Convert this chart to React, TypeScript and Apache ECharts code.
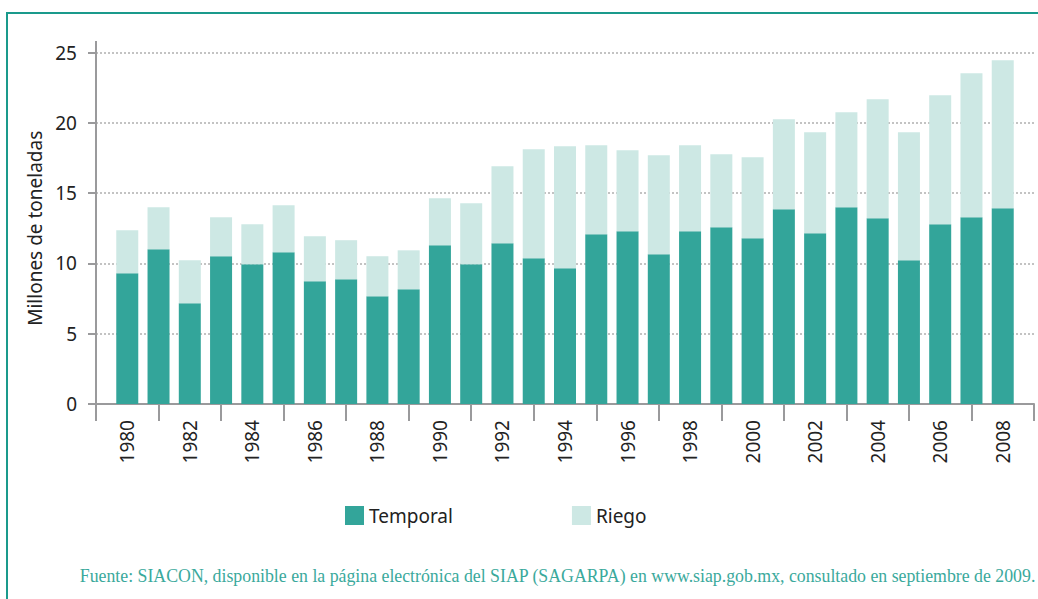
import React, { useEffect, useRef } from "react";
import * as echarts from "echarts";

const years = [
  "1980", "1981", "1982", "1983", "1984", "1985", "1986", "1987", "1988", "1989",
  "1990", "1991", "1992", "1993", "1994", "1995", "1996", "1997", "1998", "1999",
  "2000", "2001", "2002", "2003", "2004", "2005", "2006", "2007", "2008",
];
const temporal = [
  9.3, 11.0, 7.16, 10.51, 9.94, 10.79, 8.73, 8.87, 7.66, 8.16,
  11.29, 9.94, 11.43, 10.37, 9.65, 12.07, 12.29, 10.65, 12.29, 12.57,
  11.79, 13.85, 12.14, 13.99, 13.21, 10.22, 12.78, 13.28, 13.92,
];
const riego = [
  3.06, 3.0, 3.06, 2.77, 2.84, 3.35, 3.2, 2.78, 2.85, 2.77,
  3.34, 4.34, 5.48, 7.75, 8.68, 6.34, 5.76, 7.04, 6.12, 5.2,
  5.76, 6.41, 7.19, 6.76, 8.47, 9.11, 9.18, 10.25, 10.53,
];
const yTicks = [0, 5, 10, 15, 20, 25];
const seriesNames = ["Temporal", "Riego"];
const yAxisTitle = "Millones de toneladas";
const sourceNote =
  "Fuente: SIACON, disponible en la página electrónica del SIAP (SAGARPA) en www.siap.gob.mx, consultado en septiembre de 2009.";

const TEAL = "#33a59a";
const LIGHT = "#cde8e4";
const GRAY = "#9a9a9c";
const SANS = "'Noto Sans', 'Open Sans', sans-serif";

export default function App() {
  const ref = useRef<HTMLDivElement>(null);

  useEffect(() => {
    if (!ref.current) return;
    const chart = echarts.init(ref.current, undefined, { renderer: "svg" });
    // one empty slot on each side, as in the original layout
    const cats = ["", ...years, ""];
    const pad = (arr: number[]) => [null, ...arr, null];

    chart.setOption({
      animation: false,
      backgroundColor: "#ffffff",
      grid: { left: 96, right: 4, top: 52.5, bottom: 195, containLabel: false },
      legend: {
        left: 340,
        top: 501,
        itemWidth: 19,
        itemHeight: 19,
        itemGap: 119,
        icon: "rect",
        textStyle: { fontFamily: SANS, fontSize: 19, color: "#222" },
        data: seriesNames,
      },
      xAxis: {
        type: "category",
        data: cats,
        boundaryGap: false,
        axisLine: { lineStyle: { color: GRAY, width: 2 } },
        axisTick: {
          length: 17,
          interval: (i: number) => i % 2 === 0,
          lineStyle: { color: GRAY, width: 2 },
        },
        axisLabel: {
          interval: (i: number) => i % 2 === 1,
          rotate: 90,
          margin: 16,
          padding: [14, 0, 0, 0],
          fontFamily: SANS,
          fontSize: 19,
          color: "#222",
        },
        splitLine: { show: false },
      },
      yAxis: {
        type: "value",
        min: yTicks[0],
        max: yTicks[yTicks.length - 1],
        interval: 5,
        name: yAxisTitle,
        nameLocation: "middle",
        nameGap: 50,
        nameTextStyle: { fontFamily: SANS, fontSize: 19, color: "#222" },
        axisLine: { show: true, lineStyle: { color: GRAY, width: 2 } },
        axisTick: { show: true, length: 8, lineStyle: { color: GRAY, width: 2 } },
        axisLabel: { margin: 19, fontFamily: SANS, fontSize: 19, color: "#222" },
        splitLine: { lineStyle: { color: "#b0b0b0", type: [2, 2], width: 1.5 } },
      },
      series: [
        {
          name: seriesNames[0],
          type: "bar",
          stack: "total",
          barWidth: 22,
          itemStyle: { color: TEAL },
          data: pad(temporal),
        },
        {
          name: seriesNames[1],
          type: "bar",
          stack: "total",
          barWidth: 22,
          itemStyle: { color: LIGHT },
          data: pad(riego),
        },
      ],
      graphic: [
        {
          type: "rect",
          shape: { x: 7, y: 13, width: 1100, height: 700 },
          style: { fill: "none", stroke: "#1a9a8c", lineWidth: 2 },
          silent: true,
          z: 100,
        },
        {
          type: "line",
          shape: { x1: 96, y1: 41, x2: 96, y2: 53 },
          style: { stroke: GRAY, lineWidth: 2 },
          silent: true,
        },
        {
          type: "text",
          right: 2,
          top: 567,
          style: {
            text: sourceNote,
            fontFamily: "'Liberation Serif', 'DejaVu Serif', serif",
            fontSize: 17.8,
            fill: "#3aa99c",
          },
        },
      ],
    });
    return () => chart.dispose();
  }, []);

  return (
    <div
      ref={ref}
      style={{ position: "absolute", left: 0, top: 0, width: 1038, height: 599 }}
    />
  );
}
